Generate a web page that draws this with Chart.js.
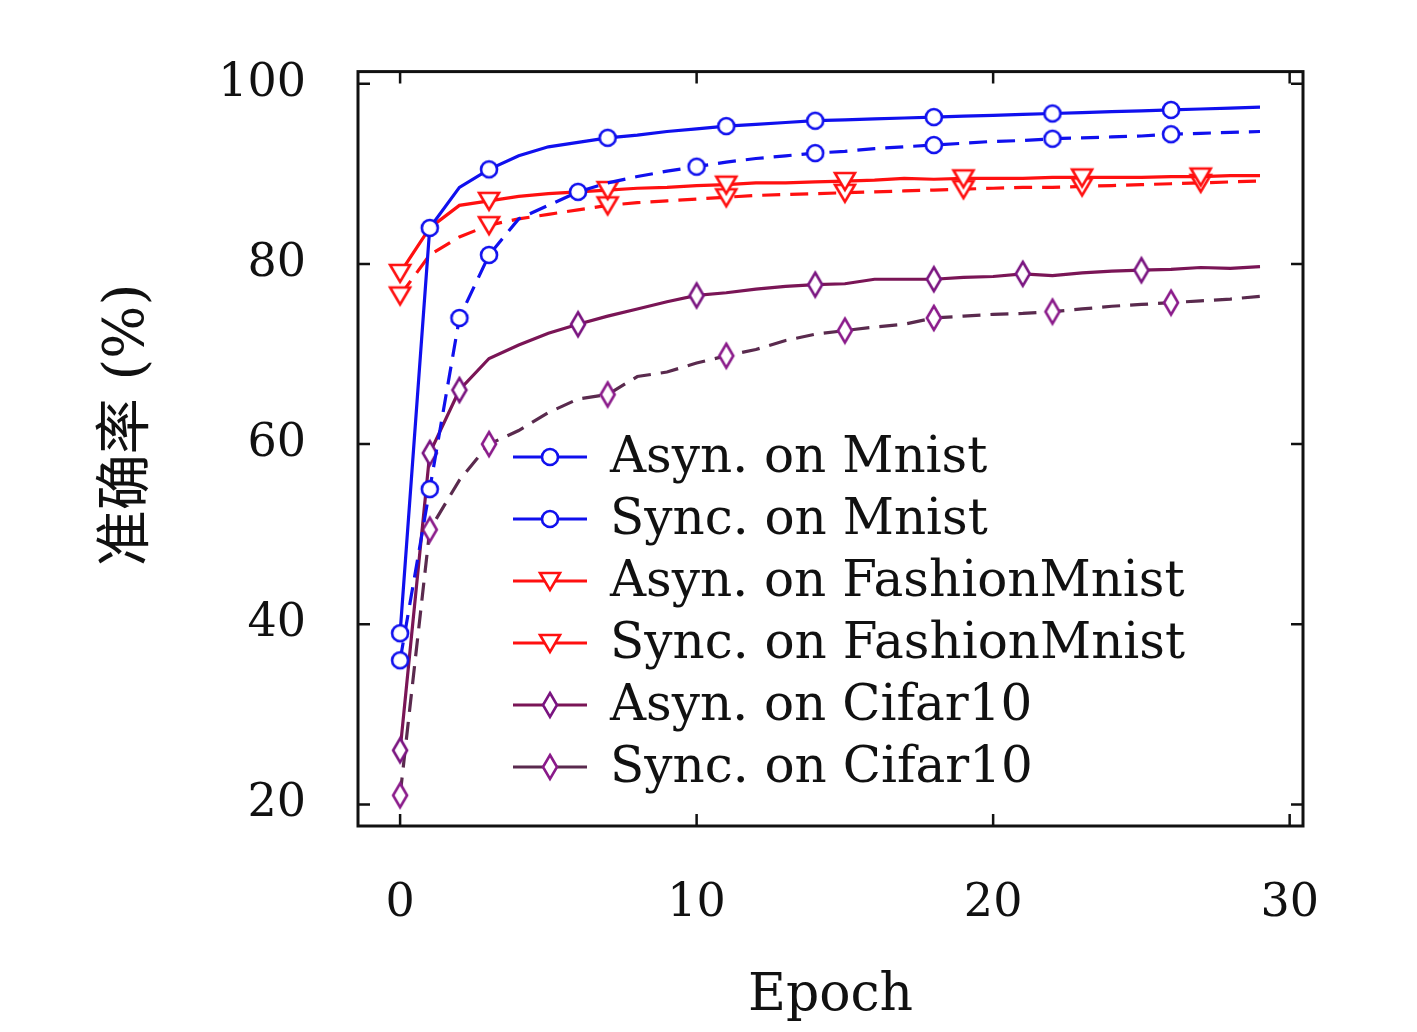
<!DOCTYPE html>
<html><head><meta charset="utf-8">
<script src="https://cdn.jsdelivr.net/npm/chart.js"></script>
<style>body{margin:0;background:#fff}</style>
</head><body>
<canvas id="c" width="1417" height="1032"></canvas>
<script>
const epochs = Array.from({length: 30}, (_, i) => i);
const asynMnist = [39,84,88.5,90.5,92,93,93.5,94,94.3,94.7,95,95.3,95.5,95.7,95.9,96,96.1,96.2,96.3,96.4,96.5,96.6,96.7,96.8,96.9,97,97.1,97.2,97.3,97.4];
const syncMnist = [36,55,74,81,85,86.5,88,89,89.7,90.3,90.8,91.3,91.7,92,92.3,92.5,92.8,93,93.2,93.4,93.6,93.7,93.9,94,94.1,94.2,94.4,94.5,94.6,94.7];
const asynFashion = [79,84,86.5,87,87.5,87.8,88,88.2,88.4,88.5,88.7,88.8,89,89,89.1,89.2,89.3,89.5,89.4,89.5,89.5,89.5,89.6,89.6,89.6,89.6,89.7,89.7,89.8,89.8];
const syncFashion = [76.5,81,83,84.3,85,85.5,86,86.5,86.8,87,87.2,87.4,87.6,87.7,87.8,87.9,88,88.1,88.2,88.3,88.4,88.5,88.5,88.6,88.7,88.8,88.9,89,89.1,89.2];
const asynCifar = [26,59,66,69.5,71,72.3,73.3,74.2,75,75.8,76.5,76.8,77.2,77.5,77.7,77.8,78.3,78.3,78.3,78.5,78.6,78.9,78.7,79,79.2,79.3,79.4,79.6,79.5,79.7];
const syncCifar = [21,50.5,56,60,61.5,63.5,65,65.5,67.5,68,69,69.8,70.5,71.5,72.2,72.6,73,73.3,74,74.2,74.4,74.5,74.7,75,75.3,75.5,75.7,75.9,76.1,76.4];
const xTicks = [0,10,20,30];
const yTicks = [20,40,60,80,100];

function marker(kind, color) {
  const c = document.createElement('canvas');
  c.width = 26; c.height = 30;
  const g = c.getContext('2d');
  g.strokeStyle = color; g.lineWidth = 2.6; g.fillStyle = '#fff';
  g.beginPath();
  if (kind === 'circle') g.arc(13, 15, 8, 0, Math.PI * 2);
  else if (kind === 'tri') { g.moveTo(3, 7); g.lineTo(23, 7); g.lineTo(13, 24); g.closePath(); }
  else { g.moveTo(13, 3); g.lineTo(20, 15); g.lineTo(13, 27); g.lineTo(6, 15); g.closePath(); }
  g.fill(); g.stroke();
  return c;
}
function radii(marks) { return epochs.map(i => marks.includes(i) ? 10 : 0); }

const series = [
  {label: 'Asyn. on Mnist', data: asynMnist, line: '#1010ee', mk: '#1010ee', kind: 'circle', dash: [], marks: [0,1,3,7,11,14,18,22,26]},
  {label: 'Sync. on Mnist', data: syncMnist, line: '#1010ee', mk: '#1010ee', kind: 'circle', dash: [18,10], marks: [0,1,2,3,6,10,14,18,22,26]},
  {label: 'Asyn. on FashionMnist', data: asynFashion, line: '#ff1010', mk: '#ff1010', kind: 'tri', dash: [], marks: [0,3,7,11,15,19,23,27]},
  {label: 'Sync. on FashionMnist', data: syncFashion, line: '#ff1010', mk: '#ff1010', kind: 'tri', dash: [18,10], marks: [0,3,7,11,15,19,23,27]},
  {label: 'Asyn. on Cifar10', data: asynCifar, line: '#7a1556', mk: '#7a1480', kind: 'diamond', dash: [], marks: [0,1,2,6,10,14,18,21,25]},
  {label: 'Sync. on Cifar10', data: syncCifar, line: '#5a2a4e', mk: '#8a1a8a', kind: 'diamond', dash: [18,10], marks: [0,1,3,7,11,15,18,22,26]}
];
series.forEach(s => s.img = marker(s.kind, s.mk));

const serif = "'DejaVu Serif', 'Liberation Serif', serif";

const frame = {
  id: 'frame',
  afterDraw(ch) {
    const {ctx, chartArea: a, scales: {x, y}} = ch;
    ctx.save();
    ctx.strokeStyle = '#111'; ctx.lineWidth = 3;
    ctx.strokeRect(a.left, a.top, a.right - a.left, a.bottom - a.top);
    ctx.lineWidth = 2.5;
    xTicks.forEach(v => { const p = x.getPixelForValue(v);
      ctx.beginPath(); ctx.moveTo(p, a.bottom); ctx.lineTo(p, a.bottom - 12);
      ctx.moveTo(p, a.top); ctx.lineTo(p, a.top + 12); ctx.stroke(); });
    yTicks.forEach(v => { const p = y.getPixelForValue(v);
      ctx.beginPath(); ctx.moveTo(a.left, p); ctx.lineTo(a.left + 12, p);
      ctx.moveTo(a.right, p); ctx.lineTo(a.right - 12, p); ctx.stroke(); });
    // legend
    ctx.font = '50px ' + serif; ctx.textBaseline = 'middle'; ctx.fillStyle = '#111';
    series.forEach((s, i) => {
      const yy = 457 + i * 62;
      ctx.strokeStyle = s.line; ctx.lineWidth = 3; ctx.setLineDash([]);
      ctx.beginPath(); ctx.moveTo(513, yy); ctx.lineTo(587, yy); ctx.stroke();
      ctx.drawImage(s.img, 550 - 13, yy - 15);
      ctx.fillText(s.label, 610, yy + 2);
    });
    // y title
    ctx.translate(128, 425); ctx.rotate(-Math.PI / 2);
    ctx.textAlign = 'center'; ctx.font = "56px 'DejaVu Serif', 'Noto Sans CJK SC', serif";
    ctx.fillText('准确率 (%)', 0, 0);
    ctx.restore();
  }
};

new Chart(document.getElementById('c'), {
  type: 'line',
  data: {
    labels: epochs,
    datasets: series.map(s => ({
      label: s.label, data: s.data.map((v, i) => ({x: epochs[i], y: v})),
      borderColor: s.line, borderWidth: 3.2, borderDash: s.dash,
      pointStyle: s.img, pointRadius: radii(s.marks), pointHoverRadius: 0,
      tension: 0, fill: false
    }))
  },
  options: {
    responsive: false, devicePixelRatio: 1, animation: false,
    layout: {padding: {top: -30, right: 114, left: 0, bottom: 0}},
    plugins: {legend: {display: false}, tooltip: {enabled: false}},
    scales: {
      x: {type: 'linear', min: -1.42, max: 30.45,
        afterFit: s => { s.height = 206; },
        afterBuildTicks: s => { s.ticks = xTicks.map(v => ({value: v})); },
        grid: {display: false}, border: {display: false},
        ticks: {color: '#111', font: {family: serif, size: 46}, padding: 42},
        title: {display: true, text: 'Epoch', color: '#111', font: {family: serif, size: 52}, padding: {top: 12}}},
      y: {min: 17.6, max: 101.35,
        afterFit: s => { s.width = 358; },
        afterBuildTicks: s => { s.ticks = yTicks.map(v => ({value: v})); },
        grid: {display: false}, border: {display: false},
        ticks: {color: '#111', font: {family: serif, size: 46}, padding: 44}}
    }
  },
  plugins: [frame]
});
</script>
</body></html>
